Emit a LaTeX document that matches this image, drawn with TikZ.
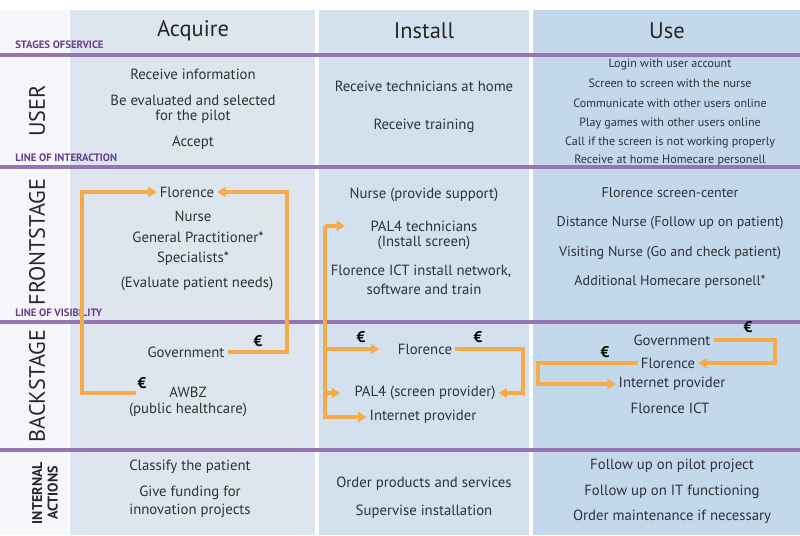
\documentclass[tikz,border=0pt]{standalone}
\usepackage{fontspec}
\setmainfont{PT Sans}
\usetikzlibrary{arrows.meta,positioning,calc}
\definecolor{colside}{RGB}{245,247,250}
\definecolor{colacq}{RGB}{221,229,238}
\definecolor{colins}{RGB}{211,225,238}
\definecolor{coluse}{RGB}{196,216,236}
\definecolor{laneline}{RGB}{150,118,178}
\definecolor{lanetext}{RGB}{104,62,140}
\definecolor{payorange}{RGB}{246,170,72}
\definecolor{celltext}{RGB}{45,50,58}

\begin{document}
\begin{tikzpicture}[x=0.025cm,y=-0.025cm,
  cell/.style={font=\fontsize{10.5}{11}\selectfont,text=celltext,inner sep=2pt},
  usecell/.style={cell,font=\fontsize{10}{11}\selectfont},
  smallcell/.style={font=\fontsize{8.6}{9}\selectfont,text=celltext,inner sep=1pt},
  stage/.style={font=\fontsize{16}{18}\selectfont,text=black!85},
  lane/.style={font=\fontsize{15.8}{16}\selectfont,text=black!85,rotate=90},
  tag/.style={font=\bfseries\fontsize{7.6}{8}\selectfont,text=lanetext,anchor=west,inner sep=0pt},
  sepline/.style={draw=laneline,line width=2.4pt},
  euro/.style={font=\bfseries\fontsize{11}{11}\selectfont,inner sep=0pt},
  pay/.style={draw=payorange,line width=2.3pt},
  payarrow/.style={pay,-{Triangle[length=6pt,width=7pt]}}
]
\useasboundingbox (0,0) rectangle (800,535);
% columns
\fill[white] (0,0) rectangle (800,535);
\fill[colside] (0,10) rectangle (68,535);
\fill[colacq] (70,10) rectangle (315,535);
\fill[colins] (319,10) rectangle (529,535);
\fill[coluse] (533,10) rectangle (800,535);

% lane separators
\foreach \y in {55,167,322,450}
  \draw[sepline] (0,\y) -- (800,\y);

\node[tag] (tstage) at (15,45) {STAGES OFSERVICE};
\node[tag] (tinter) at (15,158) {LINE OF INTERACTION};
\node[tag] (tvis) at (15,313) {LINE OF VISIBILITY};

% stages
\node[stage] (acq) at (193,31) {Acquire};
\node[stage] (ins) at (424,31) {Install};
\node[stage] (use) at (667,31) {Use};

% lanes
\node[lane] (luser) at (37,111) {USER};
\node[lane] (lfront) at (37,242) {FRONTSTAGE};
\node[lane] (lback) at (37,386) {BACKSTAGE};
\node[lane,font=\bfseries\fontsize{10}{11}\selectfont,align=center] (lint) at (45,493) {INTERNAL\\ACTIONS};

% user
\node[cell] (ua1) at (193,74) {Receive information};
\node[cell] (ua2) at (193,100) {Be evaluated and selected};
\node[cell] (ua3) at (193,117) {for the pilot};
\node[cell] (ua4) at (193,143) {Accept};
\node[cell] (ui1) at (424,86) {Receive technicians at home};
\node[cell] (ui2) at (424,126) {Receive training};
\node[smallcell] (uu1) at (670,64) {Login with user account};
\node[smallcell] (uu2) at (670,83) {Screen to screen with the nurse};
\node[smallcell] (uu3) at (670,103) {Communicate with other users online};
\node[smallcell] (uu4) at (670,123) {Play games with other users online};
\node[smallcell] (uu5) at (670,142) {Call if the screen is not working properly};
\node[smallcell] (uu6) at (670,160) {Receive at home Homecare personell};

% frontstage
\node[cell] (flor1) at (187,192) {Florence};
\node[cell] (fa2) at (193,216) {Nurse};
\node[cell] (fa3) at (198,237) {General Practitioner*};
\node[cell] (fa4) at (193,259) {Specialists*};
\node[cell] (fa5) at (197,284) {(Evaluate patient needs)};
\node[cell] (fi1) at (424,195) {Nurse (provide support)};
\node[cell] (pal4t) at (424,226) {PAL4 technicians};
\node[cell] (fi3) at (424,243) {(Install screen)};
\node[cell] (fi4) at (421,271) {Florence ICT install network,};
\node[cell] (fi5) at (424,289) {software and train};
\node[usecell] (fu1) at (670,193) {Florence screen-center};
\node[usecell] (fu2) at (670,223) {Distance Nurse (Follow up on patient)};
\node[usecell] (fu3) at (670,253) {Visiting Nurse (Go and check patient)};
\node[usecell] (fu4) at (670,282) {Additional Homecare personell*};

% backstage
\node[cell] (gov1) at (186,352) {Government};
\node[cell] (awbz) at (188,392) {AWBZ};
\node[cell] (ba3) at (188,410) {(public healthcare)};
\node[cell] (flor2) at (425,349) {Florence};
\node[cell] (pal4s) at (425,393) {PAL4 (screen provider)};
\node[cell] (inet2) at (423,417) {Internet provider};
\node[cell] (gov3) at (672,340) {Government};
\node[cell] (flor3) at (668,363) {Florence};
\node[cell] (inet3) at (672,384) {Internet provider};
\node[cell] (bu4) at (670,408) {Florence ICT};

% internal actions
\node[cell] (ia1) at (190,467) {Classify the patient};
\node[cell] (ia2) at (190,493) {Give funding for};
\node[cell] (ia3) at (190,511) {innovation projects};
\node[cell] (ii1) at (424,484) {Order products and services};
\node[cell] (ii2) at (424,512) {Supervise installation};
\node[cell] (iu1) at (672,466) {Follow up on pilot project};
\node[cell] (iu2) at (672,492) {Follow up on IT functioning};
\node[cell] (iu3) at (672,517) {Order maintenance if necessary};

% money flows
\coordinate (acqR) at (287,0);
\coordinate (acqL) at (82,0);
\coordinate (awbzpay) at ($(awbz.west)+(-30,1)$);
\draw[payarrow] (gov1.east) -| (acqR |- flor1.east) -- (flor1.east);
\draw[payarrow] (awbzpay) -| (acqL |- flor1.west) -- (flor1.west);
\node[euro] (eur1) at (258,341) {€};
\node[euro] (eur2) at (142,383) {€};

\coordinate (insbus) at (325,0);
\coordinate (insR) at (523,0);
\draw[payarrow] (insbus |- pal4t.west) |- (inet2.west);
\draw[payarrow,shorten >=16pt] (insbus |- pal4t.west) -- (pal4t.west);
\draw[payarrow,shorten >=11pt] (insbus |- flor2.west) -- (flor2.west);
\draw[payarrow,shorten >=8pt] (insbus |- pal4s.west) -- (pal4s.west);
\draw[payarrow] (flor2.east) -| (insR |- pal4s.east) -- (pal4s.east);
\node[euro] (eur3) at (361,337) {€};
\node[euro] (eur4) at (478,337) {€};

\coordinate (useR) at (775,0);
\coordinate (useL) at (538,0);
\draw[payarrow] (gov3.east) -| (useR |- flor3.east) -- (flor3.east);
\draw[payarrow] (flor3.west) -| (useL |- inet3.west) -- (inet3.west);
\node[euro] (eur5) at (748,327) {€};
\node[euro] (eur6) at (605,352) {€};
\end{tikzpicture}
\end{document}
